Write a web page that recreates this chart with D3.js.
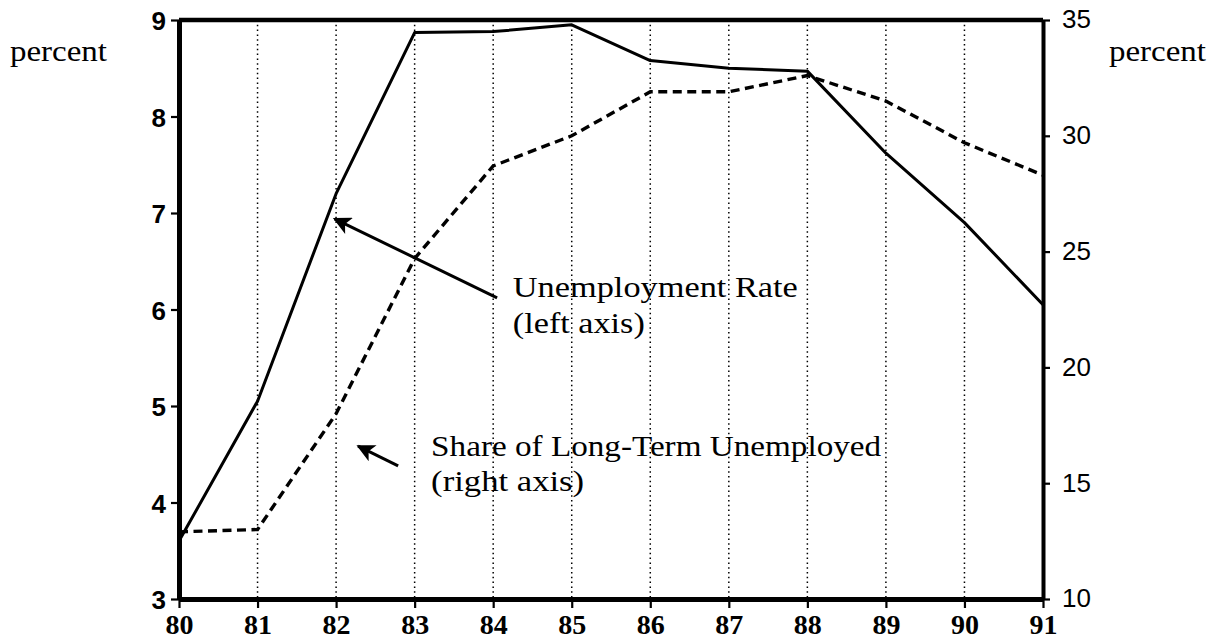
<!DOCTYPE html>
<html>
<head>
<meta charset="utf-8">
<script src="https://cdn.jsdelivr.net/npm/d3@7"></script>
<style>
  body { margin: 0; background: #fff; }
  svg { display: block; }
</style>
</head>
<body>
<script>
// data
let years = [80, 81, 82, 83, 84, 85, 86, 87, 88, 89, 90, 91]
let unemploymentRate = [3.6, 5.05, 7.2, 8.87, 8.88, 8.95, 8.58, 8.5, 8.47, 7.62, 6.9, 6.05]
let longTermShare = [12.9, 13.0, 18.0, 24.7, 28.7, 30.0, 31.9, 31.9, 32.6, 31.5, 29.7, 28.3]
let leftTicks = [3, 4, 5, 6, 7, 8, 9]
let rightTicks = [10, 15, 20, 25, 30, 35]

let width = 1224
let height = 643
let margin = { top: 20, right: 181, bottom: 44, left: 179 }
let innerW = width - margin.left - margin.right
let innerH = height - margin.top - margin.bottom

let serif = "'Liberation Serif', 'Times New Roman', serif"
let sans = "'Liberation Sans', Arial, sans-serif"

let svg = d3.select('body').append('svg')
  .attr('width', width)
  .attr('height', height)

let g = svg.append('g').attr('transform', `translate(${margin.left},${margin.top})`)

// scales
let xScale = d3.scaleLinear().domain([80, 91]).range([0, innerW])
let yLeft = d3.scaleLinear().domain([3, 9]).range([innerH, 0])
let yRight = d3.scaleLinear().domain([10, 35]).range([innerH, 0])

// dotted year grid
g.selectAll('.grid')
  .data(years.slice(1, -1))
  .enter()
  .append('line')
  .attr('class', 'grid')
  .attr('x1', d => xScale(d))
  .attr('x2', d => xScale(d))
  .attr('y1', 0)
  .attr('y2', innerH)
  .attr('stroke', '#000')
  .attr('stroke-width', 1.5)
  .attr('stroke-dasharray', '1.5 3.3')

// lines
let rows = years.map((y, i) => ({ year: y, rate: unemploymentRate[i], share: longTermShare[i] }))

let rateLine = d3.line().x(d => xScale(d.year)).y(d => yLeft(d.rate))
let shareLine = d3.line().x(d => xScale(d.year)).y(d => yRight(d.share))

g.append('path')
  .datum(rows)
  .attr('fill', 'none')
  .attr('stroke', '#000')
  .attr('stroke-width', 3.4)
  .attr('stroke-dasharray', '9 5.5')
  .attr('d', shareLine)

g.append('path')
  .datum(rows)
  .attr('fill', 'none')
  .attr('stroke', '#000')
  .attr('stroke-width', 3)
  .attr('stroke-linejoin', 'round')
  .attr('d', rateLine)

// axes
let xAxis = g.append('g')
  .attr('transform', `translate(0,${innerH})`)
  .call(d3.axisBottom(xScale).tickValues(years).tickFormat(d3.format('d')).tickSize(9).tickSizeOuter(0).tickPadding(6))

xAxis.selectAll('text')
  .attr('font-family', serif)
  .attr('font-weight', 'bold')
  .attr('font-size', 28)
  .attr('fill', '#000')

let leftAxis = g.append('g')
  .call(d3.axisLeft(yLeft).tickValues(leftTicks).tickFormat(d3.format('d')).tickSize(8).tickSizeOuter(0).tickPadding(5))

leftAxis.selectAll('text')
  .attr('font-family', sans)
  .attr('font-weight', 'bold')
  .attr('font-size', 26)
  .attr('dy', '0.38em')
  .attr('fill', '#000')

let rightAxis = g.append('g')
  .attr('transform', `translate(${innerW},0)`)
  .call(d3.axisRight(yRight).tickValues(rightTicks).tickFormat(d3.format('d')).tickSize(7).tickSizeOuter(0).tickPadding(12))

rightAxis.selectAll('text')
  .attr('font-family', sans)
  .attr('font-size', 26)
  .attr('dy', '0.3em')
  .attr('fill', '#000')

g.selectAll('.tick line').attr('stroke', '#000').attr('stroke-width', 2.2)
g.selectAll('.domain').attr('stroke', '#000')
xAxis.select('.domain').attr('stroke-width', 5)
leftAxis.select('.domain').attr('stroke-width', 5)
rightAxis.select('.domain').attr('stroke-width', 4)

// top border
g.append('line')
  .attr('x1', 0)
  .attr('x2', innerW)
  .attr('y1', 0)
  .attr('y2', 0)
  .attr('stroke', '#000')
  .attr('stroke-width', 4.5)

// axis unit labels
svg.append('text')
  .attr('x', 10).attr('y', 61)
  .attr('font-family', serif).attr('font-size', 30)
  .attr('textLength', 97).attr('lengthAdjust', 'spacingAndGlyphs')
  .text('percent')

svg.append('text')
  .attr('x', 1109).attr('y', 61)
  .attr('font-family', serif).attr('font-size', 30)
  .attr('textLength', 97).attr('lengthAdjust', 'spacingAndGlyphs')
  .text('percent')

// annotations (placed in data units)
let defs = svg.append('defs')
defs.append('marker')
  .attr('id', 'head')
  .attr('viewBox', '0 0 10 10')
  .attr('refX', 9)
  .attr('refY', 5)
  .attr('markerWidth', 7)
  .attr('markerHeight', 6)
  .attr('markerUnits', 'strokeWidth')
  .attr('orient', 'auto')
  .append('path')
  .attr('d', 'M0,0 L10,5 L0,10 L2.5,5 Z')
  .attr('fill', '#000')

g.append('line')
  .attr('x1', xScale(84.05)).attr('y1', yLeft(6.12))
  .attr('x2', xScale(81.98)).attr('y2', yLeft(6.94))
  .attr('stroke', '#000').attr('stroke-width', 3)
  .attr('marker-end', 'url(#head)')

g.append('line')
  .attr('x1', xScale(82.79)).attr('y1', yRight(15.75))
  .attr('x2', xScale(82.28)).attr('y2', yRight(16.6))
  .attr('stroke', '#000').attr('stroke-width', 3)
  .attr('marker-end', 'url(#head)')

let notes = [
  { text: 'Unemployment Rate', x: 84.25, y: 6.13, w: 285 },
  { text: '(left axis)', x: 84.25, y: 5.76, w: 132 },
  { text: 'Share of Long-Term Unemployed', x: 83.21, y: 4.48, w: 450 },
  { text: '(right axis)', x: 83.21, y: 4.12, w: 153 }
]

g.selectAll('.note')
  .data(notes)
  .enter()
  .append('text')
  .attr('class', 'note')
  .attr('x', d => xScale(d.x))
  .attr('y', d => yLeft(d.y))
  .attr('font-family', serif)
  .attr('font-size', 30)
  .attr('textLength', d => d.w)
  .attr('lengthAdjust', 'spacingAndGlyphs')
  .text(d => d.text)
</script>
</body>
</html>
